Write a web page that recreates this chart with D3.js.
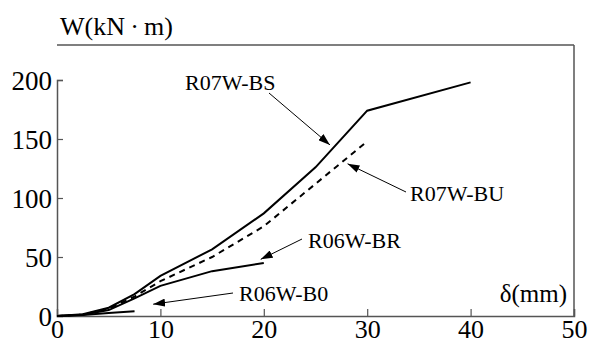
<!DOCTYPE html>
<html>
<head>
<meta charset="utf-8">
<script src="https://cdn.jsdelivr.net/npm/d3@7"></script>
<style>
  html, body { margin: 0; padding: 0; background: #fff; }
  svg { display: block; }
</style>
</head>
<body>
<svg id="chart" width="589" height="344"></svg>
<script>
// Energy W (kN·m) versus displacement δ (mm) for four specimens
const deltaBS = [0, 2.5, 5, 7.5, 10, 15, 20, 25, 30, 40];
const wBS     = [0, 1.5, 7, 18.5, 34, 56.5, 87, 126, 174, 198];

const deltaBU = [0, 2.5, 5, 7.5, 10, 15, 20, 25, 30];
const wBU     = [0, 1.2, 6, 16.5, 29.5, 50, 76, 112, 148];

const deltaBR = [0, 2.5, 5, 7.5, 10, 15, 20];
const wBR     = [0, 1, 5, 15, 25.5, 38, 45];

const deltaB0 = [0, 2.5, 5, 7.5];
const wB0     = [0, 0.8, 2.5, 4];

const xTicks = [0, 10, 20, 30, 40, 50];
const yTicks = [0, 50, 100, 150, 200];

const FONT = "'Liberation Serif', 'Times New Roman', serif";

// Callout labels: text position and the start of the leader line
const labels = [
  { name: "R07W-BS", tx: 185, ty: 90,  from: [269, 93],  series: "BS" },
  { name: "R07W-BU", tx: 410, ty: 201, from: [406, 192], series: "BU" },
  { name: "R06W-BR", tx: 308, ty: 248, from: [302, 239], series: "BR" },
  { name: "R06W-B0", tx: 239, ty: 301, from: [233, 293], series: "B0" }
];
// arrow tips, given in data units (δ, W)
const tips = {
  BS: [26.4, 145],
  BU: [28.1, 129],
  BR: [19.7, 48],
  B0: [9.3, 10]
};

const svg = d3.select("#chart");
const x = d3.scaleLinear().domain([0, 50]).range([57, 574]);
const y = d3.scaleLinear().domain([0, 200]).range([316, 80]);

const axisColor = "#555";

// frame: top and right borders
svg.append("line").attr("x1", 57).attr("x2", 574).attr("y1", 45).attr("y2", 45)
  .attr("stroke", axisColor).attr("stroke-width", 1.5);
svg.append("line").attr("x1", 574).attr("x2", 574).attr("y1", 45).attr("y2", 316)
  .attr("stroke", axisColor).attr("stroke-width", 1.5);

// x axis with inward ticks
const xAxis = svg.append("g").attr("transform", "translate(0,316)")
  .call(d3.axisTop(x).tickValues(xTicks).tickSize(7).tickFormat(d3.format("d")));
xAxis.select(".domain").attr("stroke", axisColor).attr("stroke-width", 1.5);
xAxis.selectAll(".tick line").attr("stroke", axisColor).attr("stroke-width", 1.2);
xAxis.selectAll(".tick text").remove();
xAxis.selectAll(".tick").append("text")
  .attr("y", 22).attr("text-anchor", "middle")
  .style("font-family", FONT).style("font-size", "26px").attr("fill", "#000")
  .text(d => d);

// y axis with inward ticks
const yAxis = svg.append("g").attr("transform", "translate(57,0)")
  .call(d3.axisRight(y).tickValues(yTicks).tickSize(6).tickFormat(d3.format("d")));
yAxis.select(".domain").attr("stroke", axisColor).attr("stroke-width", 1.5);
yAxis.selectAll(".tick line").attr("stroke", axisColor).attr("stroke-width", 1.2);
yAxis.selectAll(".tick text").remove();
yAxis.selectAll(".tick").append("text")
  .attr("x", -5).attr("dy", "0.34em").attr("text-anchor", "end")
  .style("font-family", FONT).style("font-size", "27px").attr("fill", "#000")
  .text(d => d);
xAxis.selectAll(".tick").filter(d => d === 0).select("line").remove();
yAxis.selectAll(".tick").filter(d => d === 0).select("line").remove();

// axis titles
svg.append("text").attr("x", 60).attr("y", 35)
  .style("font-family", FONT).style("font-size", "26px")
  .text("W(kN\u2009\u00B7\u2009m)");
svg.append("text").attr("x", 567).attr("y", 302).attr("text-anchor", "end")
  .style("font-family", FONT).style("font-size", "25px").text("\u03B4(mm)");

// curves
const line = d3.line().x(d => x(d[0])).y(d => y(d[1]));
const series = [
  { dx: deltaBS, wy: wBS, dash: null },
  { dx: deltaBU, wy: wBU, dash: "6,5" },
  { dx: deltaBR, wy: wBR, dash: null },
  { dx: deltaB0, wy: wB0, dash: null }
];
series.forEach(s => {
  svg.append("path")
    .datum(d3.zip(s.dx, s.wy))
    .attr("d", line)
    .attr("fill", "none")
    .attr("stroke", "#000")
    .attr("stroke-width", 2)
    .attr("stroke-dasharray", s.dash);
});

// arrowhead marker
svg.append("defs").append("marker")
  .attr("id", "arrow").attr("viewBox", "0 0 12 8")
  .attr("refX", 12).attr("refY", 4)
  .attr("markerWidth", 12).attr("markerHeight", 8)
  .attr("markerUnits", "userSpaceOnUse")
  .attr("orient", "auto")
  .append("path").attr("d", "M0,0 L12,4 L0,8 Z").attr("fill", "#000");

labels.forEach(l => {
  const t = tips[l.series];
  svg.append("line")
    .attr("x1", l.from[0]).attr("y1", l.from[1])
    .attr("x2", x(t[0])).attr("y2", y(t[1]))
    .attr("stroke", "#000").attr("stroke-width", 1)
    .attr("marker-end", "url(#arrow)");
  svg.append("text").attr("x", l.tx).attr("y", l.ty)
    .style("font-family", FONT).style("font-size", "22px").text(l.name);
});
</script>
</body>
</html>
